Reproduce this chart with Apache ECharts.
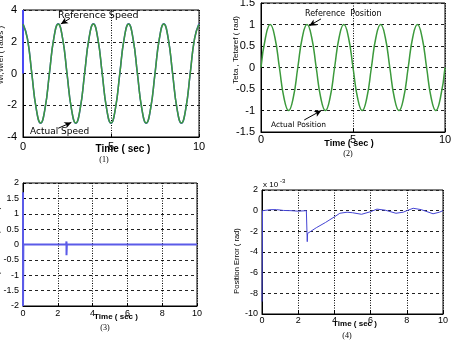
<!DOCTYPE html>
<html><head><meta charset="utf-8">
<script src="https://cdn.jsdelivr.net/npm/echarts@6/dist/echarts.min.js"></script>
<style>html,body{margin:0;padding:0;background:#fff}#c{width:452px;height:341px}</style>
</head><body><div id="c"></div>
<script>
// ---- data ----
var timeS = [0,0.25,0.5,0.75,1,1.25,1.5,1.75,2,2.25,2.5,2.75,3,3.25,3.5,3.75,4,4.25,4.5,4.75,5,5.25,5.5,5.75,6,6.25,6.5,6.75,7,7.25,7.5,7.75,8,8.25,8.5,8.75,9,9.25,9.5,9.75,10];
var speedRef = [3.14,2.22,0,-2.22,-3.14,-2.22,0,2.22,3.14,2.22,0,-2.22,-3.14,-2.22,0,2.22,3.14,2.22,0,-2.22,-3.14,-2.22,0,2.22,3.14,2.22,0,-2.22,-3.14,-2.22,0,2.22,3.14,2.22,0,-2.22,-3.14,-2.22,0,2.22,3.14];
var speedAct = [3.10,2.20,0,-2.20,-3.12,-2.21,0,2.21,3.12,2.21,0,-2.21,-3.12,-2.21,0,2.21,3.12,2.21,0,-2.21,-3.12,-2.21,0,2.21,3.12,2.21,0,-2.21,-3.12,-2.21,0,2.21,3.12,2.21,0,-2.21,-3.12,-2.21,0,2.21,3.10];
var speedRefStart = [[0,0.0],[0,4.0]];
var posAct = [0,0.71,1,0.71,0,-0.71,-1,-0.71,0,0.71,1,0.71,0,-0.71,-1,-0.71,0,0.71,1,0.71,0,-0.71,-1,-0.71,0,0.71,1,0.71,0,-0.71,-1,-0.71,0,0.71,1,0.71,0,-0.71,-1,-0.71,0];
var errT3 = [0,0,0.02,2.48,2.5,2.5,2.52,10];
var errV3 = [1.7,-2.0,0,0,0.1,-0.35,0,0];
var errT4 = [0,0.03,0.5,0.8,1.2,1.6,2.0,2.45,2.5,2.52,3.0,3.5,4.0,4.3,4.7,5.0,5.5,6.0,6.35,6.8,7.4,7.8,8.0,8.35,8.8,9.45,9.8,10];
var errV4 = [-8.8,0,0.1,0.1,0.02,0,-0.05,0,-3.0,-2.2,-1.65,-1.15,-0.6,-0.25,-0.15,-0.2,-0.35,-0.1,0.15,0.05,-0.25,-0.15,0,0.23,0.1,-0.3,-0.15,0];
var xTicks12 = {min:0,max:10,interval:5};
var xTicks34 = {min:0,max:10,interval:2};
// ---------------------------------
function zip(a,b){return a.map(function(v,i){return [v,b[i]];});}
var chart = echarts.init(document.getElementById('c'));
var sans = 'Liberation Sans, Arial, sans-serif';
function xa(idx, t, fs, margin){
  return {type:'value', gridIndex:idx, min:t.min, max:t.max, interval:t.interval,
    axisLine:{show:true, onZero:false, lineStyle:{color:'#000',width:1}},
    axisTick:{show:true, inside:true, length:3, lineStyle:{color:'#000'}},
    axisLabel:{color:'#000', fontSize:fs, fontFamily:sans, margin:margin, showMinLabel:true, showMaxLabel:true},
    splitLine:{show:true, lineStyle:{color:'#000', type:[1,1.5], width:1}}};
}
function ya(idx, mn, mx, iv, fs, margin, fmt){
  return {type:'value', gridIndex:idx, min:mn, max:mx, interval:iv,
    axisLine:{show:true, onZero:false, lineStyle:{color:'#000',width:1}},
    axisTick:{show:true, inside:true, length:3, lineStyle:{color:'#000'}},
    axisLabel:{color:'#000', fontSize:fs, fontFamily:sans, margin:margin, showMinLabel:true, showMaxLabel:true, formatter:fmt},
    splitLine:{show:true, lineStyle:{color:'#222', type:[3,3], width:1}}};
}
function txt(s, x, y, fs, opts){
  opts = opts || {};
  return {type:'text', x:x, y:y, rotation:opts.rot||0, z:50,
    style:{text:s, fill:'#000', fontSize:fs, fontFamily:opts.ff||'DejaVu Sans, sans-serif', fontWeight:opts.fw||'normal',
      align:opts.align||'left', verticalAlign:'middle'}};
}
var arrowStyle = {color:'#000', width:1, type:'solid'};
function arrow(a,b){return [{coord:a, symbol:'none'},{coord:b, symbol:'arrow', symbolSize:[5,7]}];}
var gridBase = {show:true, borderColor:'#000', borderWidth:1, backgroundColor:'#fff', containLabel:false, outerBoundsMode:'none'};
var option = {
  animation:false,
  backgroundColor:'#fff',
  grid:[
    Object.assign({left:23, top:10, width:176, height:127}, gridBase),
    Object.assign({left:261, top:3, width:184, height:129}, gridBase),
    Object.assign({left:23, top:183, width:174, height:123}, gridBase),
    Object.assign({left:262, top:190, width:181, height:124}, gridBase)
  ],
  xAxis:[xa(0,xTicks12,11,4), xa(1,xTicks12,11,2), xa(2,xTicks34,9,3), xa(3,xTicks34,9,2)],
  yAxis:[
    ya(0,-4,4,2,11,6),
    ya(1,-1.5,1.5,0.5,11,6),
    ya(2,-2,2,0.5,9,4),
    ya(3,-10,2,2,9,4)
  ],
  series:[
    {type:'line', xAxisIndex:0, yAxisIndex:0, data:speedRefStart, showSymbol:false, lineStyle:{color:'#4a4af5', width:2}, z:3},
    {type:'line', xAxisIndex:0, yAxisIndex:0, data:zip(timeS,speedRef), smooth:true, showSymbol:false, lineStyle:{color:'#4a4ae0', width:1.5}, z:3},
    {type:'line', xAxisIndex:0, yAxisIndex:0, data:zip(timeS,speedAct), smooth:true, showSymbol:false, lineStyle:{color:'#3c9a3c', width:1.5}, z:4,
      markLine:{silent:true, symbol:['none','arrow'], label:{show:false}, lineStyle:arrowStyle, animation:false,
        data:[arrow([2.67,3.47],[2.15,3.12]), arrow([2.0,-3.45],[2.75,-3.08])]}},
    {type:'line', xAxisIndex:1, yAxisIndex:1, data:zip(timeS,posAct), smooth:true, showSymbol:false, lineStyle:{color:'#3c9a3c', width:1.5}, z:4,
      markLine:{silent:true, symbol:['none','arrow'], label:{show:false}, lineStyle:arrowStyle, animation:false,
        data:[arrow([3.26,1.13],[2.62,0.97]), arrow([2.35,-1.22],[3.28,-1.0])]}},
    {type:'line', xAxisIndex:2, yAxisIndex:2, data:zip(errT3,errV3), showSymbol:false, lineStyle:{color:'#5b5be8', width:2}, z:4},
    {type:'line', xAxisIndex:3, yAxisIndex:3, data:zip(errT4,errV4), showSymbol:false, lineStyle:{color:'#4444d4', width:1}, z:4}
  ],
  graphic:[
    txt('Reference Speed', 58, 16, 9.5),
    txt('Actual Speed', 30, 132, 9),
    txt('Reference  Position', 305, 14, 8),
    txt('Actual Position', 271, 125, 7.5),
    txt('Time ( sec )', 123, 149, 10, {align:'center', fw:'bold', ff:sans}),
    txt('Time ( sec )', 349, 144, 9, {align:'center', fw:'bold', ff:sans}),
    txt('Time ( sec )', 116, 317, 8, {align:'center', fw:'bold', ff:sans}),
    txt('Time ( sec )', 355, 324, 8, {align:'center', fw:'bold', ff:sans}),
    txt('(1)', 104, 160, 8, {align:'center', ff:'Liberation Serif, serif'}),
    txt('(2)', 348, 154, 8, {align:'center', ff:'Liberation Serif, serif'}),
    txt('(3)', 105, 328, 8, {align:'center', ff:'Liberation Serif, serif'}),
    txt('(4)', 347, 336, 8, {align:'center', ff:'Liberation Serif, serif'}),
    txt('Wr,Wref ( rad/s )', 1, 55, 8, {align:'center', rot:Math.PI/2, ff:sans}),
    txt('Teta , Tetaref ( rad)', 236, 50, 8, {align:'center', rot:Math.PI/2, ff:sans}),
    txt('Speed Error ( rad/s )', -3, 243, 8, {align:'center', rot:Math.PI/2, ff:sans}),
    txt('Position Error ( rad)', 237, 261, 7.5, {align:'center', rot:Math.PI/2, ff:'Liberation Sans Narrow, Liberation Sans, sans-serif'}),
    txt('x 10', 263, 185, 8, {ff:sans}),
    txt('-3', 280, 181, 6, {ff:sans})
  ]
};
chart.setOption(option);
</script></body></html>
